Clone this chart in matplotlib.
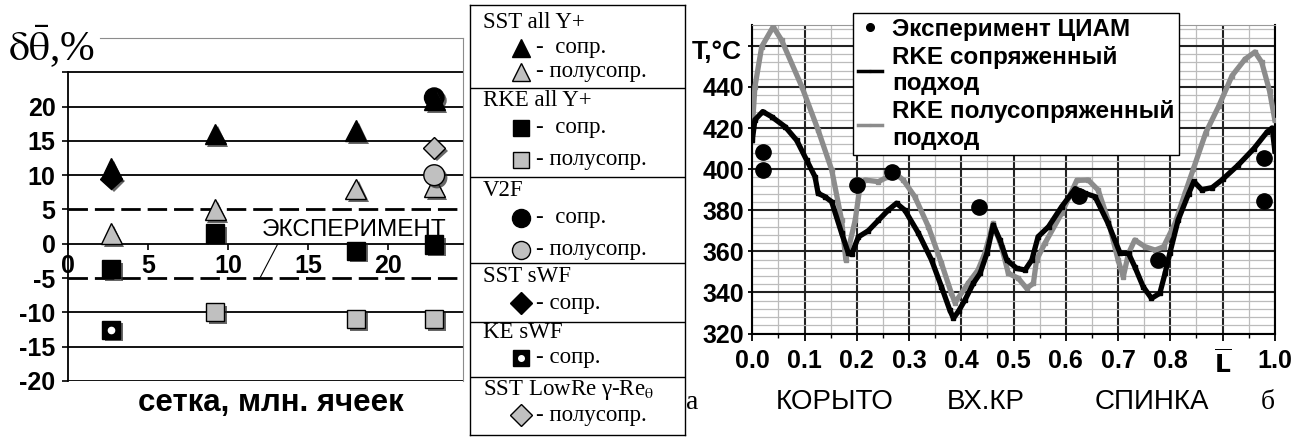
import matplotlib
matplotlib.use("Agg")
import matplotlib.pyplot as plt
import matplotlib.patheffects as pe
import numpy as np

W, H = 1299, 437

# ---- left chart: error vs mesh size ----
mesh = [2.7, 9.2, 18.0, 22.9]
sst_all_conj = [11.0, 16.0, 16.5, 21.0]
sst_all_semi = [1.5, 5.0, 8.0, 8.3]
rke_all_conj = [-3.7, 1.5, -1.0, -0.1]
rke_all_semi = [np.nan, -10.0, -11.0, -11.0]
v2f_conj = [np.nan, np.nan, np.nan, 21.3]
v2f_semi = [np.nan, np.nan, np.nan, 10.0]
sst_swf_conj = [9.5, np.nan, np.nan, np.nan]
ke_swf_conj = [-12.5, np.nan, np.nan, np.nan]
sst_lowre_semi = [np.nan, np.nan, np.nan, 14.0]
exp_band = [-5, 5]
left_yticks = [-20, -15, -10, -5, 0, 5, 10, 15, 20, 25]
left_ylabels = ["-20", "-15", "-10", "-5", "0", "5", "10", "15", "20", ""]
left_xticks = [0, 5, 10, 15, 20]

# ---- right chart: wall temperature along profile ----
L_conj = [0.0, 0.005, 0.02, 0.037, 0.063, 0.085, 0.104, 0.12, 0.126, 0.139, 0.152,
          0.171, 0.184, 0.19, 0.203, 0.222, 0.241, 0.26, 0.276, 0.292, 0.318, 0.343,
          0.362, 0.378, 0.385, 0.395, 0.407, 0.423, 0.436, 0.449, 0.461, 0.474, 0.487,
          0.506, 0.522, 0.535, 0.547, 0.567, 0.592, 0.618, 0.637, 0.656, 0.681, 0.704,
          0.72, 0.732, 0.748, 0.764, 0.78, 0.79, 0.799, 0.815, 0.835, 0.845, 0.86,
          0.88, 0.9, 0.93, 0.96, 0.985, 0.995, 1.0]
T_conj = [414, 424, 428, 425.5, 420.6, 414, 404.4, 396.3, 388.2, 386.6, 384.1,
          368.8, 359, 358.5, 367, 370, 375, 380, 383.4, 380, 368.8, 355.8,
          342.8, 331.4, 327.4, 331, 336.3, 344.4, 349.3, 359, 372.8, 365.5, 355.8,
          351.7, 350.9, 355.8, 367.1, 372, 381.7, 390.5, 388.2, 386.6, 373.6, 359,
          359, 352.5, 342.8, 337.1, 339.6, 349.3, 359, 375.2, 388, 394, 390,
          391, 395, 402, 410, 418, 420, 409]
L_semi = [0.0, 0.005, 0.018, 0.04, 0.056, 0.095, 0.126, 0.152, 0.171, 0.179, 0.197,
          0.206, 0.216, 0.241, 0.26, 0.273, 0.289, 0.311, 0.337, 0.362, 0.381, 0.388,
          0.413, 0.432, 0.445, 0.461, 0.477, 0.49, 0.509, 0.525, 0.538, 0.544, 0.56,
          0.592, 0.621, 0.643, 0.662, 0.681, 0.7, 0.71, 0.72, 0.732, 0.752, 0.771,
          0.787, 0.809, 0.828, 0.844, 0.868, 0.893, 0.918, 0.943, 0.962, 0.975,
          0.99, 1.0]
T_semi = [420, 440, 459.6, 469.3, 462.8, 440, 419, 399.6, 375, 355.8, 375.2,
          391.4, 394.7, 393.9, 396.3, 398, 394.7, 386.6, 372, 354.2, 339.6, 335,
          344.4, 350.9, 359, 373.6, 362.2, 349.3, 346.9, 342, 344.4, 355.8, 363.9,
          378.5, 394.5, 394.7, 389.8, 375.2, 355.8, 347.6, 359, 365.5, 362.2, 360.6,
          362.2, 373.6, 388.2, 400, 417.8, 430.8, 445.4, 453.5, 457, 452,
          438, 424]
L_exp = [0.021, 0.021, 0.2, 0.267, 0.433, 0.625, 0.776, 0.98, 0.98]
T_exp = [408.5, 399.6, 392.3, 398.7, 381.7, 387, 355.8, 405.6, 384.5]
right_xticks = [0.0, 0.1, 0.2, 0.3, 0.4, 0.5, 0.6, 0.7, 0.8, 0.9, 1.0]
right_xlabels = ["0.0", "0.1", "0.2", "0.3", "0.4", "0.5", "0.6", "0.7", "0.8",
                 r"$\overline{\mathbf{L}}$", "1.0"]
right_yticks = [320, 340, 360, 380, 400, 420, 440, 460]
right_ylabels = ["320", "340", "360", "380", "400", "420", "440", ""]

GRAY = "#c0c0c0"
SANS = "Liberation Sans"
SERIF = "Liberation Serif"

plt.rcParams["font.family"] = [SANS, "DejaVu Sans"]


def px_box(x0, y0, x1, y1):
    return [x0 / W, 1 - y1 / H, (x1 - x0) / W, (y1 - y0) / H]


fig = plt.figure(figsize=(W / 100, H / 100), dpi=100)

# ================= left chart =================
ax1 = fig.add_axes(px_box(68, 38, 463, 381))
ax1.set_xlim(0, 24.7)
ax1.set_ylim(-20, 30)
for y in left_yticks:
    if y in exp_band or y == 0:
        continue
    ax1.axhline(y, color="black", lw=1.3, zorder=1)
for y in exp_band:
    ax1.axhline(y, color="black", lw=2.0, ls=(0, (7, 2.5)), zorder=1)

shadow = [pe.SimplePatchShadow(offset=(2, -2), shadow_rgbFace="0.15", alpha=0.7),
          pe.Normal()]
mk = dict(ls="none", mec="black", mew=1.0, zorder=3, path_effects=shadow)
ax1.plot(mesh, v2f_conj, marker="o", ms=14, mfc="black", **mk)
ax1.plot(mesh, sst_all_conj, marker="^", ms=15, mfc="black", **mk)
ax1.plot(mesh, sst_all_semi, marker="^", ms=15, mfc=GRAY, **mk)
ax1.plot(mesh, v2f_semi, marker="o", ms=15, mfc=GRAY, **mk)
ax1.plot(mesh, sst_swf_conj, marker="D", ms=11, mfc="black", **mk)
ax1.plot(mesh, sst_lowre_semi, marker="D", ms=11, mfc=GRAY, **mk)
ax1.plot(mesh, rke_all_conj, marker="s", ms=13, mfc="black", **mk)
ax1.plot(mesh, rke_all_semi, marker="s", ms=13, mfc=GRAY, **mk)
ax1.plot(mesh, ke_swf_conj, marker="s", ms=13, mfc="black", **mk)
ax1.plot(mesh, ke_swf_conj, marker="o", ms=4.5, mfc="white", mec="white",
         ls="none", zorder=4)

ax1.text(17.9, 2.0, "ЭКСПЕРИМЕНТ", fontsize=17.5, ha="center", va="center", zorder=5)
ax1.annotate("", xy=(12.0, -5), xytext=(13.1, -0.1),
             arrowprops=dict(arrowstyle="-", color="black", lw=0.8,
                             shrinkA=0, shrinkB=0))

ax1.spines["bottom"].set_position(("data", 0))
ax1.spines["bottom"].set_linewidth(1.3)
ax1.spines["left"].set_bounds(-20, 25)
ax1.spines["left"].set_linewidth(1.3)
for s in ("top", "right"):
    ax1.spines[s].set_color("0.55")
    ax1.spines[s].set_linewidth(0.8)
ax1.spines["top"].set_bounds(2.0, 24.7)
ax1.set_yticks(left_yticks, left_ylabels, fontsize=18, fontweight="bold")
ax1.set_xticks(left_xticks, [str(v) for v in left_xticks], fontsize=18,
               fontweight="bold")
ax1.tick_params(axis="y", length=4, width=1.2, pad=5)
ax1.tick_params(axis="x", length=4, width=1.2, pad=3)

fig.text(8 / W, 1 - 47 / H, r"$\mathrm{\delta\bar{\theta}}$,%", fontsize=30,
         family=SERIF, math_fontfamily="stix", ha="left", va="center")
fig.text(271 / W, 1 - 403 / H, "сетка, млн. ячеек", fontsize=22.5,
         fontweight="bold", ha="center", va="center")

# ================= middle legend box =================
lax = fig.add_axes(px_box(470, 5, 685, 435))
lax.set_xlim(470, 685)
lax.set_ylim(435, 5)
lax.set_xticks([])
lax.set_yticks([])
for s in lax.spines.values():
    s.set_linewidth(1.0)
for y in [88, 177, 263, 322, 377]:
    lax.axhline(y, color="black", lw=1.0)

legend_groups = [
    ("SST all Y+", 22, [("^", "black", 13, "-  сопр.", 48),
                        ("^", GRAY, 13, "- полусопр.", 72)]),
    ("RKE all Y+", 100, [("s", "black", 12, "-  сопр.", 128),
                         ("s", GRAY, 12, "- полусопр.", 160)]),
    ("V2F", 190, [("o", "black", 13, "-  сопр.", 218),
                  ("o", GRAY, 13, "- полусопр.", 250)]),
    ("SST sWF", 277, [("D", "black", 11, "- сопр.", 303)]),
    ("KE sWF", 333, [("s", "black", 11, "- сопр.", 358)]),
    (r"SST LowRe γ-Re$_\mathrm{\theta}$", 390, [("D", GRAY, 11, "- полусопр.", 415)]),
]
for title, ty, rows in legend_groups:
    lax.text(483, ty, title, fontsize=16.5, family=SERIF, math_fontfamily="stix",
             ha="left", va="center")
    for marker, color, size, label, ry in rows:
        lax.plot([521], [ry], marker=marker, ms=size, mfc=color, mec="black",
                 mew=1.0, ls="none")
        if title == "KE sWF":
            lax.plot([521], [ry], marker="o", ms=4, mfc="white", mec="white",
                     ls="none")
        lax.text(536, ry, label, fontsize=16.5, family=SERIF, ha="left",
                 va="center")

# ================= right chart =================
ax2 = fig.add_axes(px_box(752.3, 25.3, 1274.8, 333.5))
ax2.set_xlim(0, 1)
ax2.set_ylim(320, 470)
ax2.set_xticks(right_xticks, right_xlabels, fontsize=18, fontweight="bold",
               math_fontfamily="dejavusans")
ax2.set_xticks(np.arange(0.05, 1.0, 0.1), minor=True)
ax2.set_yticks(right_yticks, right_ylabels, fontsize=18, fontweight="bold")
ax2.set_yticks(np.arange(320, 470, 4), minor=True)
ax2.grid(which="minor", color="#bcbcbc", lw=0.9)
ax2.grid(which="major", color="#222222", lw=1.5)
ax2.set_axisbelow(True)
ax2.tick_params(axis="x", which="major", length=5, width=1.3, pad=6)
ax2.tick_params(axis="x", which="minor", length=3, width=1.0)
ax2.tick_params(axis="y", which="major", length=3, width=1.3, pad=3)
ax2.tick_params(axis="y", which="minor", length=0)
for s in ("left", "bottom", "right"):
    ax2.spines[s].set_linewidth(1.5)
ax2.spines["top"].set_color("0.6")
ax2.spines["top"].set_linewidth(0.8)

ax2.plot(L_semi, T_semi, color="#8c8c8c", lw=3.8, marker="s", ms=2.5,
         label="RKE полусопряженный\nподход", zorder=3)
ax2.plot(L_conj, T_conj, color="black", lw=3.8, marker="s", ms=2.5,
         label="RKE сопряженный\nподход", zorder=4)
ax2.plot(L_exp, T_exp, "o", color="black", ms=11, label="Эксперимент ЦИАМ",
         zorder=5)

handles, labels = ax2.get_legend_handles_labels()
order = [2, 1, 0]
leg = ax2.legend([handles[i] for i in order], [labels[i] for i in order],
                 loc="upper left", bbox_to_anchor=(853 / W, 1 - 13 / H),
                 bbox_transform=fig.transFigure,
                 prop=dict(family=SANS, weight="bold", size=17.5),
                 handlelength=1.0, handletextpad=0.4, labelspacing=0.2,
                 borderpad=0.2, borderaxespad=0, markerscale=0.5,
                 fancybox=False, framealpha=1, edgecolor="black")
leg.get_frame().set_linewidth(1.0)
for line in leg.get_lines():
    line.set_linewidth(2.5)

fig.text(717 / W, 1 - 52 / H, "T,°C", fontsize=19, fontweight="bold",
         ha="center", va="center")
for name, xpx in [("КОРЫТО", 835), ("ВХ.КР", 986), ("СПИНКА", 1152)]:
    fig.text(xpx / W, 1 - 409 / H, name, fontsize=20, ha="center",
             va="baseline")
fig.text(686 / W, 1 - 409 / H, "а", fontsize=20, family=SERIF, ha="left",
         va="baseline")
fig.text(1268 / W, 1 - 409 / H, "б", fontsize=20, family=SERIF, ha="center",
         va="baseline")

fig.savefig("out.png", dpi=100)
